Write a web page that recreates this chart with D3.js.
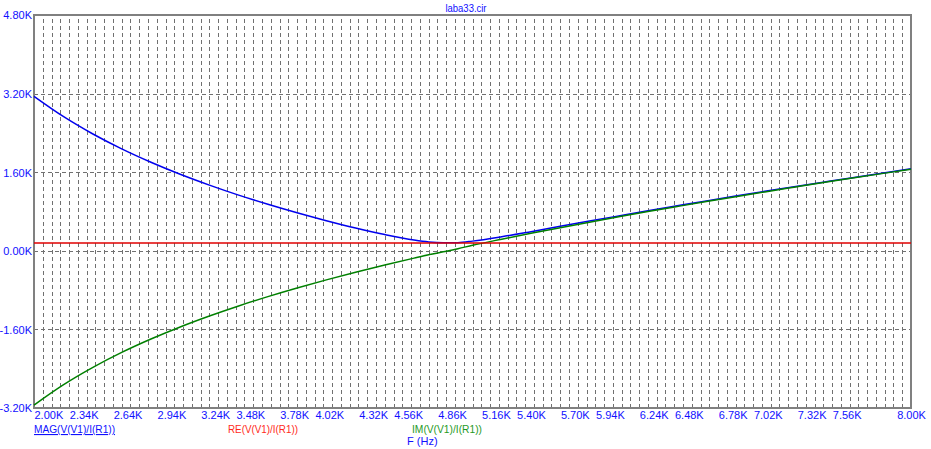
<!DOCTYPE html>
<html>
<head>
<meta charset="utf-8">
<script src="https://cdn.jsdelivr.net/npm/d3@7"></script>
<style>
  html, body { margin: 0; padding: 0; background: #ffffff; }
  svg { display: block; }
  text { font-family: "Liberation Sans", Arial, sans-serif; font-size: 11px; }
</style>
</head>
<body>
<svg id="chart" width="931" height="449"></svg>
<script>
// ---- data (ohms vs Hz) ----
const title = "laba33.cir";
const freq = [2000, 2200, 2400, 2600, 2800, 3000, 3200, 3400, 3600, 3800, 4000, 4200, 4400, 4600, 4700, 4800, 4900, 5000, 5200, 5400, 5600, 5800, 6000, 6200, 6400, 6600, 6800, 7000, 7200, 7400, 7600, 7800, 8000];
const magValues = [3144, 2735, 2383, 2075, 1803, 1558, 1337, 1133, 947, 774, 613, 464, 330, 218, 179, 162, 166, 197, 286, 390, 498, 605, 710, 814, 915, 1016, 1114, 1210, 1304, 1397, 1489, 1579, 1668];
const reValues = [160, 160, 160, 160, 160, 160, 160, 160, 160, 160, 160, 160, 160, 160, 160, 160, 160, 160, 160, 160, 160, 160, 160, 160, 160, 160, 160, 160, 160, 160, 160, 160, 160];
const imValues = [-3140, -2730, -2378, -2069, -1796, -1550, -1327, -1122, -933, -757, -592, -436, -289, -149, -81, -20, 42, 113, 237, 356, 471, 583, 692, 798, 901, 1003, 1102, 1199, 1294, 1388, 1480, 1571, 1660];
const xTickValues = [2000, 2340, 2640, 2940, 3240, 3480, 3780, 4020, 4320, 4560, 4860, 5160, 5400, 5700, 5940, 6240, 6480, 6780, 7020, 7320, 7560, 8000];
const yTickValues = [-3200, -1600, 0, 1600, 3200, 4800];
const seriesNames = ["MAG(V(V1)/I(R1))", "RE(V(V1)/I(R1))", "IM(V(V1)/I(R1))"];
const xAxisTitle = "F (Hz)";

// ---- layout ----
const pL = 34, pR = 911, pT = 15, pB = 408;
const svg = d3.select("#chart");
const x = d3.scaleLinear().domain([2000, 8000]).range([pL, pR]);
const y = d3.scaleLinear().domain([-3200, 4800]).range([pB, pT]);
const fmtK = v => (v / 1000).toFixed(2) + "K";
const gridColor = "#808080";
const labelBlue = "#1010ff";

// vertical minor grid (every 60 Hz)
const minorX = d3.range(1, 100).map(i => 2000 + i * 60);
const gv = svg.append("g").attr("transform", `translate(0,${pB})`)
  .call(d3.axisBottom(x).tickValues(minorX).tickSize(-(pB - pT)).tickFormat("").offset(0));
gv.select(".domain").remove();
gv.selectAll(".tick").attr("transform", d => `translate(${Math.round(x(d)) + 0.5},0)`);
gv.selectAll("line").attr("stroke", "#707070").attr("stroke-width", 1)
  .attr("stroke-dasharray", "4,3");

// horizontal grid at y ticks
const gh = svg.append("g").attr("transform", `translate(${pL},0)`)
  .call(d3.axisLeft(y).tickValues(yTickValues.slice(1, -1)).tickSize(-(pR - pL)).tickFormat("").offset(0));
gh.select(".domain").remove();
gh.selectAll(".tick").attr("transform", d => `translate(0,${Math.round(y(d)) + 0.5})`);
gh.selectAll("line").attr("stroke", "#707070").attr("stroke-width", 1)
  .attr("stroke-dasharray", "4,3");

// frame
svg.append("rect").attr("x", pL).attr("y", pT)
  .attr("width", pR - pL).attr("height", pB - pT)
  .attr("fill", "none").attr("stroke", gridColor).attr("stroke-width", 2);

// y labels
const yl = svg.append("g").attr("transform", `translate(${pL - 2},0)`)
  .call(d3.axisLeft(y).tickValues(yTickValues).tickSize(0).tickFormat(fmtK));
yl.select(".domain").remove();
yl.selectAll("text").attr("fill", labelBlue).attr("font-size", 11)
  .attr("font-family", "Liberation Sans, Arial, sans-serif").attr("x", 0).attr("dy", "0.36em");

// x labels
const xl = svg.append("g").attr("transform", `translate(0,${pB})`)
  .call(d3.axisBottom(x).tickValues(xTickValues).tickSize(0).tickFormat(fmtK));
xl.select(".domain").remove();
xl.selectAll("text").attr("fill", labelBlue).attr("font-size", 11)
  .attr("font-family", "Liberation Sans, Arial, sans-serif").attr("y", 11).attr("dy", 0);
xl.selectAll("text").filter(d => d === 2000).attr("text-anchor", "start").attr("x", 0);

// series
const rows = freq.map((f, i) => ({ f, mag: magValues[i], re: reValues[i], im: imValues[i] }));
const mk = key => d3.line().x(d => x(d.f)).y(d => y(d[key])).curve(d3.curveMonotoneX);
svg.append("path").datum(rows).attr("d", mk("mag")).attr("fill", "none")
  .attr("stroke", "#0000ee").attr("stroke-width", 1.5);
svg.append("path").datum(rows).attr("d", mk("im")).attr("fill", "none")
  .attr("stroke", "#008000").attr("stroke-width", 1.5);
svg.append("path").datum(rows).attr("d", mk("re")).attr("fill", "none")
  .attr("stroke", "#e00000").attr("stroke-width", 1.5);

// title
svg.append("text").attr("x", 466).attr("y", 12).attr("text-anchor", "middle")
  .attr("textLength", 41).attr("lengthAdjust", "spacingAndGlyphs")
  .attr("fill", labelBlue).text(title);

// legend
const legendColors = [labelBlue, "#ff2a1a", "#1f9a1f"];
const legendX = [34, 228, 412];
const legendW = [81, 70, 70];
seriesNames.forEach((name, i) => {
  const t = svg.append("text").attr("x", legendX[i]).attr("y", 433)
    .attr("textLength", legendW[i]).attr("lengthAdjust", "spacingAndGlyphs")
    .attr("fill", legendColors[i]).text(name);
  if (i === 0) t.attr("text-decoration", "underline");
});
svg.append("text").attr("x", 407).attr("y", 445).attr("fill", labelBlue).text(xAxisTitle);
</script>
</body>
</html>
